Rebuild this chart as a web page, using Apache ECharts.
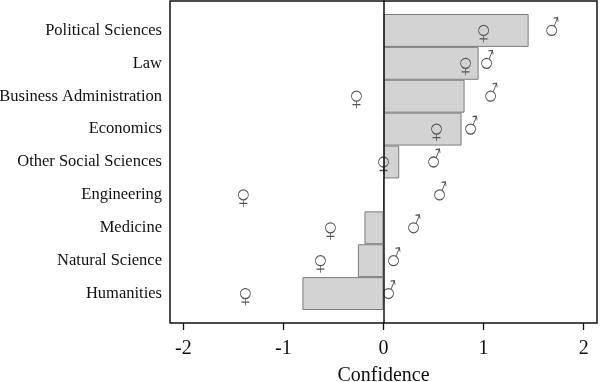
<!DOCTYPE html>
<html>
<head>
<meta charset="utf-8">
<script src="https://cdn.jsdelivr.net/npm/echarts@6/dist/echarts.min.js"></script>
<style>html,body{margin:0;padding:0;background:#fff}#c{width:600px;height:382px}</style>
</head>
<body>
<div id="c"></div>
<script>
const categories = ['Political Sciences','Law','Business Administration','Economics','Other Social Sciences','Engineering','Medicine','Natural Science','Humanities'];
const barValues = [1.45, 0.95, 0.81, 0.78, 0.157, 0, -0.19, -0.256, -0.81];
const femaleValues = [1.00, 0.82, -0.27, 0.53, 0.0, -1.40, -0.53, -0.63, -1.38];
const maleValues = [1.68, 1.03, 1.07, 0.87, 0.50, 0.56, 0.30, 0.10, 0.05];
const xTicks = [-2, -1, 0, 1, 2];

const FEMALE = 'path://M0 5 A5 5 0 1 0 10 5 A5 5 0 1 0 0 5 M5 10 L5 17 M1 13.5 L9 13.5';
const MALE = 'path://M0 13 A5 5 0 1 0 10 13 A5 5 0 1 0 0 13 M7.6 8.6 L11 0 M7 0.6 L11 0 L11.5 4.2';
const font = '"Liberation Serif", "Times New Roman", serif';
const XMIN = -2.133, XMAX = 2.133;

const chart = echarts.init(document.getElementById('c'), null, {renderer: 'canvas'});
chart.setOption({
  animation: false,
  backgroundColor: '#fff',
  grid: [
    {left: 170, right: 3, top: 1, bottom: 59, show: true, borderColor: '#111', borderWidth: 1.5, backgroundColor: 'transparent', z: 4, containLabel: false, outerBoundsMode: 'none'},
    {left: 170, right: 3, top: 14, bottom: 72, containLabel: false, outerBoundsMode: 'none'}
  ],
  xAxis: [
    {
      gridIndex: 0, type: 'value', min: XMIN, max: XMAX,
      axisLine: {show: false},
      splitLine: {show: false},
      axisTick: {show: true, length: 7, inside: false, customValues: xTicks, lineStyle: {color: '#111', width: 1.3}},
      axisLabel: {customValues: xTicks, fontSize: 20, fontFamily: font, color: '#111', margin: 16},
      name: 'Confidence', nameLocation: 'middle', nameGap: 43,
      nameTextStyle: {fontSize: 20, fontFamily: font, color: '#111'}
    },
    {
      gridIndex: 1, type: 'value', min: XMIN, max: XMAX, show: false
    }
  ],
  yAxis: [
    {
      gridIndex: 0, type: 'value', min: 0, max: 1, z: 5,
      axisLine: {show: true, onZero: true, lineStyle: {color: '#111', width: 1.5}},
      axisTick: {show: false}, axisLabel: {show: false}, splitLine: {show: false}
    },
    {
      gridIndex: 1, type: 'category', data: categories, inverse: true,
      axisLine: {show: false}, axisTick: {show: false}, splitLine: {show: false},
      axisLabel: {fontSize: 16.5, fontFamily: font, color: '#111', margin: 8}
    }
  ],
  series: [
    {
      type: 'bar', xAxisIndex: 1, yAxisIndex: 1, data: barValues,
      barCategoryGap: 0, barWidth: '100%',
      itemStyle: {color: '#d3d3d3', borderColor: '#7c7c7c', borderWidth: 1}
    },
    {
      type: 'scatter', xAxisIndex: 1, yAxisIndex: 1,
      data: femaleValues.map((v, i) => [v, categories[i]]),
      symbol: FEMALE, symbolSize: [10, 17], symbolOffset: [0, 3.5], z: 3,
      itemStyle: {color: 'transparent', borderColor: '#555', borderWidth: 1, opacity: 1}
    },
    {
      type: 'scatter', xAxisIndex: 1, yAxisIndex: 1,
      data: maleValues.map((v, i) => [v, categories[i]]),
      symbol: MALE, symbolSize: [11.5, 18], symbolOffset: [0.75, -4], z: 3,
      itemStyle: {color: 'transparent', borderColor: '#555', borderWidth: 1, opacity: 1}
    }
  ]
});
</script>
</body>
</html>
